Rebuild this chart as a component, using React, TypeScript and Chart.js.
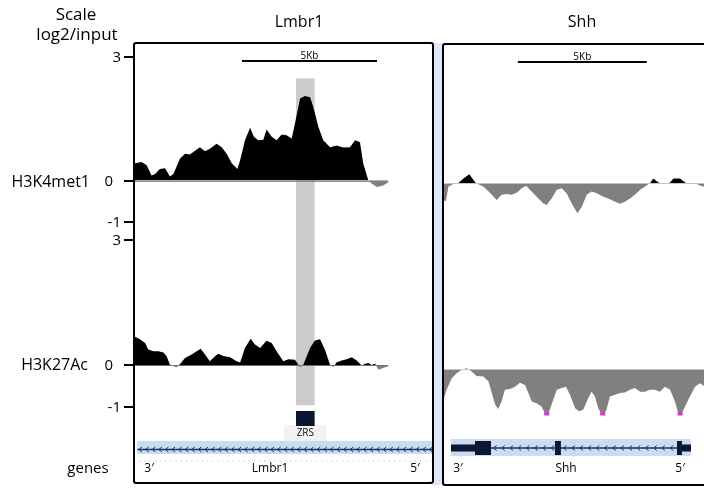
import { useEffect, useRef } from "react";
import { Chart, registerables } from "chart.js";

Chart.register(...registerables);

const W = 704;
const H = 488;
const FONT = '"Open Sans", "Noto Sans", sans-serif';

// ---- text ----
const panelTitles = ["Lmbr1", "Shh"];
const trackNames = ["H3K4met1", "H3K27Ac"];
const scaleTitle = ["Scale", "log2/input"];
const geneRowName = "genes";
const tickValues = [3, 0, -1];
const scaleBarLabel = "5Kb";
const scaleBarKb = 5;
const scaleBarStart = [4.0, 2.9]; // kb, left / right panel

// ---- genes (kb) ----
const lmbr1Span = [0.12, 11.5];
const shhSpan = [0.31, 9.61];
const shhUtrs = [
  [0.31, 1.24],
  [9.26, 9.61],
];
const shhExons = [
  [1.24, 1.86],
  [4.34, 4.57],
  [9.07, 9.26],
];
const shhIntron = [1.86, 9.07];
const zrsRegion = [6.0, 6.69];
const zrsLabel = "ZRS";
const geneEndLabels = ["3\u2032", "5\u2032"];
const lmbr1LabelPos = [0.56, 5.04, 10.41];
const shhLabelPos = [0.58, 4.77, 9.19];

// ---- signal: Lmbr1 H3K4me1 ----
const lmbrK4Pos = [0, 0.28, 0.47, 0.65, 0.78, 0.96, 1.15, 1.33, 1.46, 1.7, 1.89, 2.07, 2.26, 2.44, 2.63, 2.81, 3.06, 3.25, 3.43, 3.62, 3.83, 3.93, 4.11, 4.3, 4.44, 4.6, 4.79, 4.91, 5.1, 5.28, 5.47, 5.65, 5.84, 5.96, 6.15, 6.33, 6.52, 6.64, 6.83, 7.01, 7.26, 7.51, 7.75, 8.0, 8.19, 8.37, 8.49, 8.68, 8.8, 8.99, 9.23, 9.42];
const lmbrK4Val = [0.41, 0.45, 0.37, 0.12, 0.16, 0.28, 0.3, 0.1, 0.16, 0.53, 0.65, 0.63, 0.72, 0.81, 0.71, 0.77, 0.89, 0.81, 0.65, 0.42, 0.28, 0.49, 0.98, 1.28, 1.06, 0.98, 0.99, 1.24, 1.06, 0.98, 1.12, 1.1, 1.02, 1.38, 1.99, 2.05, 2.02, 1.79, 1.3, 0.98, 0.81, 0.85, 0.8, 0.81, 0.98, 0.93, 0.41, 0, -0.07, -0.16, -0.12, -0.04];

// ---- signal: Lmbr1 H3K27Ac ----
const lmbrK27Pos = [0, 0.22, 0.41, 0.53, 0.72, 0.9, 1.09, 1.21, 1.33, 1.58, 1.7, 1.89, 2.14, 2.32, 2.47, 2.63, 2.81, 3.0, 3.12, 3.31, 3.56, 3.8, 3.93, 4.11, 4.32, 4.48, 4.67, 4.91, 5.1, 5.28, 5.53, 5.72, 5.96, 6.15, 6.27, 6.52, 6.7, 6.89, 7.07, 7.26, 7.38, 7.51, 7.69, 7.88, 8.06, 8.25, 8.43, 8.56, 8.68, 8.8, 8.93, 9.05, 9.23, 9.42];
const lmbrK27Val = [0.7, 0.63, 0.54, 0.38, 0.34, 0.34, 0.31, 0.22, 0.02, -0.04, 0.03, 0.18, 0.26, 0.34, 0.4, 0.26, 0.1, 0.22, 0.28, 0.23, 0.2, 0.1, 0.07, 0.42, 0.64, 0.5, 0.42, 0.59, 0.54, 0.34, 0.1, 0.15, 0.14, -0.04, 0.02, 0.42, 0.6, 0.63, 0.38, 0.02, -0.04, 0.08, 0.12, 0.15, 0.2, 0.12, 0, 0.04, 0.06, 0.01, 0.04, -0.1, -0.06, -0.02];

// ---- signal: Shh H3K4me1 ----
const shhK4Pos = [0, 0.12, 0.21, 0.4, 0.59, 0.79, 1.02, 1.18, 1.28, 1.56, 1.82, 2.08, 2.27, 2.47, 2.66, 2.86, 3.05, 3.22, 3.37, 3.63, 3.89, 4.02, 4.21, 4.41, 4.6, 4.79, 4.99, 5.21, 5.38, 5.57, 5.76, 5.96, 6.22, 6.47, 6.67, 6.86, 7.05, 7.25, 7.44, 7.64, 7.83, 8.02, 8.15, 8.35, 8.48, 8.67, 8.8, 8.93, 9.19, 9.38, 9.57, 9.83, 10.03, 10.16];
const shhK4Val = [-0.45, -0.42, -0.08, -0.02, 0, 0.12, 0.22, 0.08, 0, -0.08, -0.23, -0.41, -0.28, -0.26, -0.28, -0.23, -0.12, -0.06, -0.16, -0.33, -0.49, -0.53, -0.37, -0.16, -0.12, -0.24, -0.49, -0.73, -0.57, -0.28, -0.2, -0.24, -0.33, -0.39, -0.45, -0.5, -0.45, -0.37, -0.28, -0.16, -0.08, 0, 0.12, 0.02, -0.02, -0.02, 0.02, 0.12, 0.12, 0.02, -0.02, -0.02, -0.07, -0.08];

// ---- signal: Shh H3K27Ac ----
const shhK27Pos = [0, 0.14, 0.34, 0.53, 0.72, 0.92, 1.11, 1.3, 1.56, 1.76, 1.89, 2.02, 2.14, 2.27, 2.4, 2.6, 2.79, 2.98, 3.18, 3.31, 3.44, 3.63, 3.82, 3.96, 4.08, 4.21, 4.41, 4.6, 4.77, 4.92, 5.12, 5.28, 5.44, 5.63, 5.76, 5.89, 6.02, 6.13, 6.25, 6.34, 6.47, 6.67, 6.86, 7.05, 7.25, 7.44, 7.64, 7.83, 8.02, 8.22, 8.41, 8.6, 8.8, 8.99, 9.13, 9.25, 9.38, 9.57, 9.77, 9.96, 10.16];
const shhK27Val = [-0.72, -0.46, -0.2, -0.09, -0.01, 0.02, -0.05, -0.15, -0.16, -0.27, -0.53, -0.79, -0.89, -0.72, -0.46, -0.44, -0.39, -0.3, -0.35, -0.53, -0.72, -0.76, -0.83, -1.1, -1.1, -0.79, -0.46, -0.42, -0.39, -0.57, -0.87, -0.94, -0.9, -0.64, -0.5, -0.61, -0.87, -1.1, -1.1, -0.9, -0.61, -0.57, -0.53, -0.52, -0.46, -0.42, -0.5, -0.5, -0.46, -0.46, -0.5, -0.39, -0.46, -0.72, -1.1, -1.1, -0.83, -0.61, -0.39, -0.31, -0.39];

const VIEW_MIN = -1;

// ---- layout helpers (pixel geometry of the hidden scales) ----
function xRange(pxAt0: number, pxPerKb: number) {
  const min = -pxAt0 / pxPerKb;
  return { min, max: min + W / pxPerKb };
}
function yRange(v1: number, p1: number, v2: number, p2: number) {
  const k = (p2 - p1) / (v1 - v2);
  const max = v1 + p1 / k;
  return { min: max - H / k, max };
}

const C = {
  black: "#000000",
  neg: "#808080",
  band: "#cccccc",
  geneBg: "#c9dcf1",
  geneLine: "#1d2f6c",
  exon: "#0b1630",
  clip: "#e22be2",
};

function toPoints(pos: number[], val: number[]) {
  return pos.map((x, i) => ({ x, y: Math.max(VIEW_MIN, val[i]) }));
}

function signalDataset(pos: number[], val: number[], xAxisID: string, yAxisID: string) {
  return {
    data: toPoints(pos, val),
    xAxisID,
    yAxisID,
    fill: { target: "origin", above: C.black, below: C.neg },
    borderWidth: 0,
    borderColor: "rgba(0,0,0,0)",
    backgroundColor: C.black,
    pointRadius: 0,
    tension: 0,
  };
}

function drawChevrons(ctx: CanvasRenderingContext2D, x0: number, x1: number, y: number, step: number) {
  ctx.save();
  ctx.strokeStyle = C.geneLine;
  ctx.lineWidth = 1;
  ctx.beginPath();
  for (let x = x0 + step / 2; x < x1 - 1; x += step) {
    ctx.moveTo(x + 1.5, y - 2.5);
    ctx.lineTo(x - 1.5, y);
    ctx.lineTo(x + 1.5, y + 2.5);
  }
  ctx.stroke();
  ctx.restore();
}

const decor = {
  id: "decor",
  beforeDatasetsDraw(chart: any) {
    const { ctx, scales } = chart;
    const xL = scales.xL;
    const xR = scales.xR;
    ctx.save();
    // ZRS highlight band
    const bx0 = xL.getPixelForValue(zrsRegion[0]);
    const bx1 = xL.getPixelForValue(zrsRegion[1]);
    const by0 = scales.yK4L.getPixelForValue(2.48);
    const by1 = scales.yK27L.getPixelForValue(-0.95);
    ctx.fillStyle = C.band;
    ctx.fillRect(bx0, by0, bx1 - bx0, by1 - by0);
    // baselines of the left tracks
    ctx.strokeStyle = "#8c8c8c";
    ctx.lineWidth = 1;
    [
      [lmbrK4Pos, scales.yK4L],
      [lmbrK27Pos, scales.yK27L],
    ].forEach(([pos, sc]: any) => {
      const y = Math.round(sc.getPixelForValue(0)) + 0.5;
      ctx.beginPath();
      ctx.moveTo(xL.getPixelForValue(pos[0]), y);
      ctx.lineTo(xL.getPixelForValue(pos[pos.length - 1]), y);
      ctx.stroke();
    });
    ctx.restore();
  },
  afterDatasetsDraw(chart: any) {
    const { ctx, scales } = chart;
    const xL = scales.xL;
    const xR = scales.xR;
    ctx.save();

    // light baseline over right tracks
    ctx.strokeStyle = "#c4c4c4";
    ctx.lineWidth = 1;
    [scales.yK4R, scales.yK27R].forEach((sc: any) => {
      const y = Math.round(sc.getPixelForValue(0)) + 0.5;
      ctx.beginPath();
      ctx.moveTo(xR.getPixelForValue(0), y);
      ctx.lineTo(W, y);
      ctx.stroke();
    });

    // clipped bins (below view minimum)
    ctx.strokeStyle = C.clip;
    ctx.lineWidth = 3;
    const yc = scales.yK27R.getPixelForValue(VIEW_MIN);
    for (let i = 0; i < shhK27Pos.length - 1; i++) {
      if (shhK27Val[i] < VIEW_MIN && shhK27Val[i + 1] < VIEW_MIN) {
        ctx.beginPath();
        ctx.moveTo(xR.getPixelForValue(shhK27Pos[i]) - 1, yc);
        ctx.lineTo(xR.getPixelForValue(shhK27Pos[i + 1]) + 1, yc);
        ctx.stroke();
      }
    }

    // left axis ticks and labels
    ctx.fillStyle = "#000";
    ctx.strokeStyle = "#000";
    ctx.lineWidth = 2;
    ctx.font = `15px ${FONT}`;
    ctx.textAlign = "right";
    ctx.textBaseline = "middle";
    [scales.yK4L, scales.yK27L].forEach((sc: any) => {
      tickValues.forEach((v) => {
        const y = Math.round(sc.getPixelForValue(v));
        ctx.beginPath();
        ctx.moveTo(124, y);
        ctx.lineTo(134, y);
        ctx.stroke();
        ctx.fillText(String(v), v === 0 ? 113 : 121, y + 1);
      });
    });

    // scale bars
    ctx.lineWidth = 2;
    ctx.font = `10px ${FONT}`;
    ctx.textAlign = "center";
    ctx.textBaseline = "alphabetic";
    [
      [xL, scaleBarStart[0], 61],
      [xR, scaleBarStart[1], 62],
    ].forEach(([sx, start, y]: any) => {
      const a = sx.getPixelForValue(start);
      const b = sx.getPixelForValue(start + scaleBarKb);
      ctx.beginPath();
      ctx.moveTo(a, y);
      ctx.lineTo(b, y);
      ctx.stroke();
      ctx.fillText(scaleBarLabel, (a + b) / 2, y - 2);
    });

    // ZRS element
    const zx0 = xL.getPixelForValue(zrsRegion[0]);
    const zx1 = xL.getPixelForValue(zrsRegion[1]);
    ctx.fillStyle = "#f2f2f2";
    ctx.fillRect((zx0 + zx1) / 2 - 21, 425, 42, 16);
    ctx.fillStyle = C.exon;
    ctx.fillRect(zx0, 411, zx1 - zx0, 15);
    ctx.fillStyle = "#111";
    ctx.font = `10px ${FONT}`;
    ctx.textBaseline = "middle";
    ctx.fillText(zrsLabel, (zx0 + zx1) / 2, 433.5);

    // ---- left gene track (Lmbr1) ----
    ctx.save();
    const lp0 = xL.getPixelForValue(0);
    ctx.beginPath();
    ctx.rect(lp0, 0, 432 - lp0, H);
    ctx.clip();
    const g0 = xL.getPixelForValue(lmbr1Span[0]);
    const g1 = xL.getPixelForValue(lmbr1Span[1]);
    ctx.fillStyle = C.geneBg;
    ctx.fillRect(g0, 441, g1 - g0, 13);
    ctx.strokeStyle = C.geneLine;
    ctx.lineWidth = 1.5;
    ctx.beginPath();
    ctx.moveTo(g0, 449.5);
    ctx.lineTo(g1, 449.5);
    ctx.stroke();
    drawChevrons(ctx, g0, g1, 449.5, 6.6);
    // dotted guide
    ctx.fillStyle = "#c9cbd6";
    for (let x = g0 + 2; x < 431; x += 5.2) ctx.fillRect(x, 460.5, 1.2, 1.2);
    ctx.restore();

    // ---- right gene track (Shh) ----
    const s0 = xR.getPixelForValue(shhSpan[0]);
    const s1 = xR.getPixelForValue(shhSpan[1]);
    ctx.fillStyle = C.geneBg;
    ctx.fillRect(s0, 439, s1 - s0, 17);
    const gy = 448;
    const i0 = xR.getPixelForValue(shhIntron[0]);
    const i1 = xR.getPixelForValue(shhIntron[1]);
    ctx.strokeStyle = C.geneLine;
    ctx.lineWidth = 1.5;
    ctx.beginPath();
    ctx.moveTo(i0, gy);
    ctx.lineTo(i1, gy);
    ctx.stroke();
    const e2a = xR.getPixelForValue(shhExons[1][0]);
    const e2b = xR.getPixelForValue(shhExons[1][1]);
    drawChevrons(ctx, i0, e2a, gy, 8.2);
    drawChevrons(ctx, e2b, i1, gy, 8.2);
    ctx.fillStyle = C.exon;
    shhUtrs.forEach(([a, b]) => {
      const pa = xR.getPixelForValue(a);
      const pb = xR.getPixelForValue(b);
      ctx.fillRect(pa, gy - 3.5, pb - pa, 7);
    });
    shhExons.forEach(([a, b]) => {
      const pa = xR.getPixelForValue(a);
      const pb = xR.getPixelForValue(b);
      ctx.fillRect(pa, gy - 7, pb - pa, 14);
    });

    // gene labels
    ctx.fillStyle = "#000";
    ctx.font = `12px ${FONT}`;
    ctx.textAlign = "center";
    ctx.textBaseline = "middle";
    const lt = [geneEndLabels[0], panelTitles[0], geneEndLabels[1]];
    lmbr1LabelPos.forEach((p, i) => ctx.fillText(lt[i], xL.getPixelForValue(p), 468.5));
    const rt = [geneEndLabels[0], panelTitles[1], geneEndLabels[1]];
    shhLabelPos.forEach((p, i) => ctx.fillText(rt[i], xR.getPixelForValue(p), 468.5));

    ctx.restore();
  },
};

function Label(props: { text: string; cx?: number; right?: number; cy: number; size: number }) {
  const { text, cx, right, cy, size } = props;
  const style: any = {
    position: "absolute",
    top: cy - 12,
    height: 24,
    lineHeight: "24px",
    width: 200,
    whiteSpace: "nowrap",
    fontFamily: FONT,
    fontSize: size,
    color: "#000",
  };
  if (cx !== undefined) {
    style.left = cx - 100;
    style.textAlign = "center";
  } else {
    style.left = (right as number) - 200;
    style.textAlign = "right";
  }
  return <div style={style}>{text}</div>;
}

export default function App() {
  const ref = useRef<HTMLCanvasElement | null>(null);

  useEffect(() => {
    if (!ref.current) return;
    const xl = xRange(134, 27);
    const xr = xRange(443, 25.8);
    const k4L = yRange(3, 57, 0, 180.5);
    const k27L = yRange(3, 240, 0, 365.5);
    const k4R = yRange(0, 183.3, -1, 224.3);
    const k27R = yRange(0, 369.3, -1, 414);
    const chart = new Chart(ref.current, {
      type: "line",
      data: {
        datasets: [
          signalDataset(lmbrK4Pos, lmbrK4Val, "xL", "yK4L"),
          signalDataset(lmbrK27Pos, lmbrK27Val, "xL", "yK27L"),
          signalDataset(shhK4Pos, shhK4Val, "xR", "yK4R"),
          signalDataset(shhK27Pos, shhK27Val, "xR", "yK27R"),
        ] as any,
      },
      options: {
        responsive: false,
        animation: false,
        devicePixelRatio: 1,
        layout: { padding: 0 },
        events: [],
        plugins: {
          legend: { display: false },
          tooltip: { enabled: false },
          title: { display: false },
        },
        scales: {
          xL: { type: "linear", display: false, min: xl.min, max: xl.max },
          xR: { type: "linear", display: false, min: xr.min, max: xr.max },
          yK4L: { type: "linear", display: false, min: k4L.min, max: k4L.max },
          yK27L: { type: "linear", display: false, min: k27L.min, max: k27L.max },
          yK4R: { type: "linear", display: false, min: k4R.min, max: k4R.max },
          yK27R: { type: "linear", display: false, min: k27R.min, max: k27R.max },
        },
      } as any,
      plugins: [decor],
    });
    return () => chart.destroy();
  }, []);

  return (
    <div
      style={{
        position: "fixed",
        left: 0,
        top: 0,
        width: W,
        height: H,
        background: "#fff",
        overflow: "hidden",
      }}
    >
      <canvas ref={ref} width={W} height={H} style={{ position: "absolute", left: 0, top: 0, width: W, height: H }} />
      {/* panel frames */}
      <div style={{ position: "absolute", left: 434, top: 43, width: 8, height: 442, background: "#dde8fa" }} />
      <div
        style={{
          position: "absolute",
          left: 133,
          top: 42,
          width: 301,
          height: 442,
          border: "2px solid #000",
          borderRadius: 3,
          boxSizing: "border-box",
        }}
      />
      <div
        style={{
          position: "absolute",
          left: 442,
          top: 43,
          width: 300,
          height: 443,
          border: "2px solid #000",
          borderRadius: 3,
          boxSizing: "border-box",
        }}
      />
      <Label text={scaleTitle[0]} cx={76} cy={14} size={17} />
      <Label text={scaleTitle[1]} cx={77} cy={34} size={17} />
      <Label text={panelTitles[0]} cx={299} cy={21} size={16} />
      <Label text={panelTitles[1]} cx={582} cy={21} size={16} />
      <Label text={trackNames[0]} right={90} cy={181} size={16} />
      <Label text={trackNames[1]} right={88} cy={364} size={16} />
      <Label text={geneRowName} cx={88} cy={467} size={15} />
    </div>
  );
}
